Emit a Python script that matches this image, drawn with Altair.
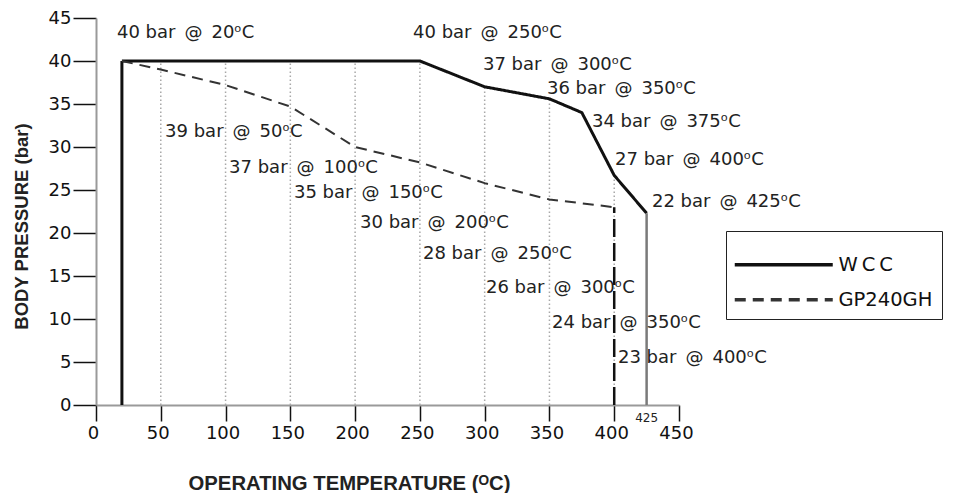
import altair as alt
import pandas as pd
import numpy as np

# ---------------- data ----------------
series_names = ["WCC", "GP240GH"]

wcc_temp = [20, 20, 250, 300, 350, 375, 400, 425]
wcc_pressure = [0, 40, 40, 37, 35.6, 34, 26.7, 22.3]

gp_temp = [20, 50, 100, 150, 200, 250, 300, 350, 400]
gp_pressure = [40, 39, 37.2, 34.7, 30, 28.2, 25.8, 23.9, 23]

grid_temps = [50, 100, 150, 200, 250, 300, 350, 400]
x_ticks = [0, 50, 100, 150, 200, 250, 300, 350, 400, 450]
y_ticks = [0, 5, 10, 15, 20, 25, 30, 35, 40, 45]

# annotation ratings (bar, degC) and where their text sits (data units)
wcc_rating_bar = [40, 40, 37, 36, 34, 27, 22]
wcc_rating_temp = [20, 250, 300, 350, 375, 400, 425]
wcc_label_x = [16.2, 244.7, 298.7, 348.1, 382.8, 400.6, 429.1]
wcc_label_y = [43.3, 43.3, 39.5, 36.7, 32.9, 28.5, 23.6]

gp_rating_bar = [39, 37, 35, 30, 28, 26, 24, 23]
gp_rating_temp = [50, 100, 150, 200, 250, 300, 350, 400]
gp_label_x = [53.3, 102.7, 152.8, 203.8, 252.4, 301.0, 352.0, 402.9]
gp_label_y = [31.7, 27.6, 24.7, 21.2, 17.6, 13.6, 9.5, 5.5]

extra_tick = 425

# ---------------- tables ----------------
lines = pd.DataFrame({
    "series": ["WCC"] * len(wcc_temp) + ["GP240GH"] * len(gp_temp),
    "temp": wcc_temp + gp_temp,
    "pressure": wcc_pressure + gp_pressure,
    "idx": list(range(len(wcc_temp))) + list(range(len(gp_temp))),
    "sw": [3.0] * len(wcc_temp) + [2.0] * len(gp_temp),
})

grid = pd.DataFrame({
    "temp": grid_temps,
    "pressure": [0] * len(grid_temps),
    "top": np.interp(grid_temps, wcc_temp[1:], wcc_pressure[1:]),
})

def lab(b, t):
    return f"{b} bar\u2002@\u2002{t}\u1d52C"

labels = pd.DataFrame({
    "text": [lab(b, t) for b, t in zip(wcc_rating_bar, wcc_rating_temp)]
    + [lab(b, t) for b, t in zip(gp_rating_bar, gp_rating_temp)],
    "temp": wcc_label_x + gp_label_x,
    "pressure": wcc_label_y + gp_label_y,
})

gp_drop = pd.DataFrame({"temp": [gp_temp[-1]], "pressure": [0], "top": [gp_pressure[-1]]})
wcc_drop = pd.DataFrame({"temp": [wcc_temp[-1]], "pressure": [0], "top": [wcc_pressure[-1]]})
extra = pd.DataFrame({"temp": [extra_tick], "pressure": [0], "text": [str(extra_tick)]})

# ---------------- scales / axes ----------------
xscale = alt.Scale(domain=[0, 450], nice=False)
yscale = alt.Scale(domain=[0, 45], nice=False)

x_axis = alt.Axis(
    values=x_ticks, title="OPERATING TEMPERATURE (\u1d3cC)", grid=False,
    domainColor="#9a9a9a", domainWidth=2, tickColor="#111", tickWidth=1.5, tickSize=16,
    labelFont="DejaVu Sans", labelFontSize=18, labelColor="#111", labelPadding=3,
    labelFlush=False, labelOverlap=False, labelOffset=-3,
    titleFont="Liberation Sans", titleFontSize=20.3, titleFontWeight="bold", titleColor="#222",
    titleX=253, titleY=84, titleBaseline="alphabetic", titleAlign="center",
)
y_axis = alt.Axis(
    values=y_ticks, title="BODY PRESSURE (bar)", grid=False,
    domainColor="#9a9a9a", domainWidth=2, tickColor="#111", tickWidth=1.5, tickSize=23,
    labelFont="DejaVu Sans", labelFontSize=18, labelColor="#111", labelPadding=2,
    labelOverlap=False,
    titleFont="Liberation Sans", titleFontSize=18.5, titleFontWeight="bold", titleColor="#222",
    titleX=-69, titleY=208, titleAngle=270, titleBaseline="alphabetic", titleAlign="center",
)

X = alt.X("temp:Q", scale=xscale, axis=x_axis)
Y = alt.Y("pressure:Q", scale=yscale, axis=y_axis)

legend = alt.Legend(
    title=" ", titleFontSize=9, titlePadding=6,
    orient="none", legendX=630, legendY=213, direction="vertical",
    symbolType="M-49,0H49", symbolSize=4, symbolStrokeWidth=3.5, symbolOffset=39,
    labelFont="DejaVu Sans", labelFontSize=19.5, labelColor="#111", labelOffset=45,
    labelExpr="datum.label == 'WCC' ? '\u2009W\u2009C\u2009C' : datum.label",
    padding=9, rowPadding=14, strokeColor="#222", fillColor="white",
)

grid_layer = alt.Chart(grid).mark_rule(
    color="#a8a8a8", strokeWidth=1.5, strokeDash=[1.5, 2.5]
).encode(x=X, y=Y, y2="top:Q")

line_layer = alt.Chart(lines).mark_line(strokeJoin="miter", strokeCap="butt").encode(
    x=X, y=Y,
    color=alt.Color("series:N", scale=alt.Scale(domain=series_names, range=["#111111", "#333333"]), legend=legend),
    strokeDash=alt.StrokeDash("series:N", scale=alt.Scale(domain=series_names, range=[[1, 0], [11, 7]]), legend=legend),
    strokeWidth=alt.StrokeWidth("sw:Q", scale=None),
    order="idx:Q",
)

gp_drop_layer = alt.Chart(gp_drop).mark_rule(
    color="#111", strokeWidth=2.5, strokeDash=[18, 6]
).encode(x=X, y=Y, y2="top:Q")

wcc_drop_layer = alt.Chart(wcc_drop).mark_rule(
    color="#7a7a7a", strokeWidth=2.5
).encode(x=X, y=Y, y2="top:Q")

text_layer = alt.Chart(labels).mark_text(
    align="left", baseline="middle", font="DejaVu Sans", fontSize=18, color="#222"
).encode(x=X, y=Y, text="text:N")

extra_layer = alt.Chart(extra).mark_text(
    align="center", baseline="middle", font="DejaVu Sans", fontSize=12, color="#222", dy=13
).encode(x=X, y=Y, text="text:N")

chart = alt.layer(
    grid_layer, line_layer, gp_drop_layer, wcc_drop_layer, text_layer, extra_layer
).properties(
    width=583, height=387,
    autosize=alt.AutoSizeParams(type="none"),
    padding={"left": 88, "top": 10, "right": 266, "bottom": 95},
).configure_view(stroke=None)

chart.save("out.html", embed_options={"renderer": "svg", "actions": False})
